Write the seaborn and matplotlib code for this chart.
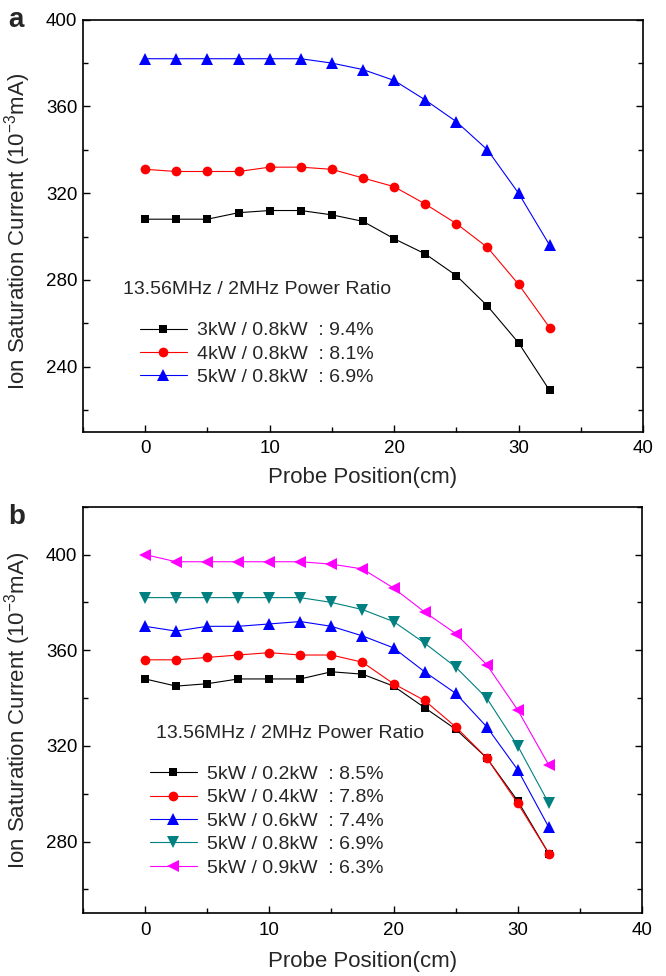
import numpy as np
import pandas as pd
import matplotlib
matplotlib.use("Agg")
import matplotlib.pyplot as plt
from matplotlib.ticker import MultipleLocator
import seaborn as sns

# probe positions (cm)
positions = [0, 2.5, 5, 7.5, 10, 12.5, 15, 17.5, 20, 22.5, 25, 27.5, 30, 32.5]

# panel a: 13.56MHz power varied, 2MHz fixed at 0.8kW
a_labels = ["3kW / 0.8kW  : 9.4%", "4kW / 0.8kW  : 8.1%", "5kW / 0.8kW  : 6.9%"]
a_3kw = [308, 308, 308, 311, 312, 312, 310, 307, 299, 292, 282, 268, 251, 229]
a_4kw = [331, 330, 330, 330, 332, 332, 331, 327, 323, 315, 306, 295, 278, 258]
a_5kw = [382, 382, 382, 382, 382, 382, 380, 377, 372, 363, 353, 340, 320, 296]

# panel b: 13.56MHz fixed at 5kW, 2MHz power varied
b_labels = ["5kW / 0.2kW  : 8.5%", "5kW / 0.4kW  : 7.8%", "5kW / 0.6kW  : 7.4%",
            "5kW / 0.8kW  : 6.9%", "5kW / 0.9kW  : 6.3%"]
b_02kw = [348, 345, 346, 348, 348, 348, 351, 350, 345, 336, 327, 315, 297, 275]
b_04kw = [356, 356, 357, 358, 359, 358, 358, 355, 346, 339, 328, 315, 296, 275]
b_06kw = [370, 368, 370, 370, 371, 372, 370, 366, 361, 351, 342, 328, 310, 286]
b_08kw = [382, 382, 382, 382, 382, 382, 380, 377, 372, 363, 353, 340, 320, 296]
b_09kw = [400, 397, 397, 397, 397, 397, 396, 394, 386, 376, 367, 354, 335, 312]

legend_title = "13.56MHz / 2MHz Power Ratio"
xlabel = "Probe Position(cm)"
ylabel = "Ion Saturation Current (10$^{-3}$mA)"

sns.set_theme(style="ticks")
plt.rcParams["font.family"] = ["Liberation Sans", "DejaVu Sans"]
plt.rcParams["mathtext.fontset"] = "custom"
plt.rcParams["mathtext.rm"] = "Liberation Sans"
plt.rcParams["mathtext.default"] = "regular"

# (color, marker, markersize)
styles_a = [("black", "s", 6), ("red", "o", 7), ("blue", "^", 9)]
styles_b = [("black", "s", 6), ("red", "o", 7), ("blue", "^", 9),
            ("#008080", "v", 9), ("magenta", "<", 9)]


def draw_panel(ax, series, labels, styles, ylim, title_xy, legend_xy):
    for vals, lab, (col, mk, ms) in zip(series, labels, styles):
        df = pd.DataFrame({"x": positions, "y": vals})
        sns.lineplot(data=df, x="x", y="y", ax=ax, color=col, marker=mk,
                     markersize=ms, markeredgecolor=col, markeredgewidth=0,
                     linewidth=0.8, label=lab)
    ax.set_xlim(-5, 40)
    ax.set_ylim(*ylim)
    ax.xaxis.set_major_locator(MultipleLocator(10))
    ax.xaxis.set_minor_locator(MultipleLocator(5))
    ax.yaxis.set_major_locator(MultipleLocator(40))
    ax.yaxis.set_minor_locator(MultipleLocator(20))
    ax.tick_params(which="both", direction="in", right=True, top=False,
                   width=1.0, labelsize=13.5, colors="black")
    ax.tick_params(which="major", length=5)
    ax.tick_params(which="minor", length=3.5)
    ax.tick_params(axis="x", pad=6)
    ax.tick_params(axis="y", pad=4)
    for sp in ax.spines.values():
        sp.set_linewidth(1.2)
        sp.set_color("black")
        sp.set_visible(True)
    ax.set_xlabel(xlabel, fontsize=16)
    ax.set_ylabel(ylabel, fontsize=16)
    ax.text(title_xy[0], title_xy[1], legend_title, transform=ax.transAxes,
            fontsize=14, ha="left", va="center")
    ax.legend(loc="center left", bbox_to_anchor=legend_xy, frameon=False,
              fontsize=14, borderpad=0, borderaxespad=0, handlelength=2.4,
              handletextpad=0.55, labelspacing=0.3, markerscale=1.0)


fig = plt.figure(figsize=(6.66, 9.76), dpi=100)
ax_a = fig.add_axes([0.1246, 0.5577, 0.8408, 0.4221])
ax_b = fig.add_axes([0.1246, 0.0642, 0.8393, 0.4166])

draw_panel(ax_a, [a_3kw, a_4kw, a_5kw], a_labels, styles_a, (210, 400),
           (0.071, 0.344), (0.102, 0.1886))
draw_panel(ax_b, [b_02kw, b_04kw, b_06kw, b_08kw, b_09kw], b_labels, styles_b,
           (250, 420), (0.131, 0.443), (0.12, 0.227))

ax_a.xaxis.set_label_coords(0.5, -0.085)
ax_a.yaxis.set_label_coords(-0.089, 0.485)
ax_b.xaxis.set_label_coords(0.5, -0.093)
ax_b.yaxis.set_label_coords(-0.089, 0.5)

fig.text(0.012, 0.993, "a", fontsize=20, fontweight="bold", ha="left", va="top")
fig.text(0.012, 0.484, "b", fontsize=20, fontweight="bold", ha="left", va="top")

fig.savefig("out.png", dpi=100)
plt.close(fig)
